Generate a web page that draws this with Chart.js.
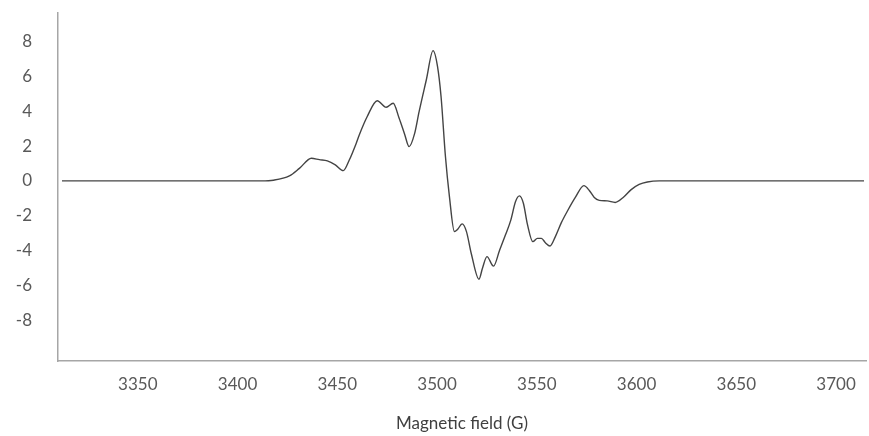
<!DOCTYPE html>
<html>
<head>
<meta charset="utf-8">
<script src="https://cdn.jsdelivr.net/npm/chart.js@4.4.1/dist/chart.umd.min.js"></script>
<style>
  body { margin: 0; background: #fff; }
  #wrap { width: 869px; height: 436px; }
</style>
</head>
<body>
<div id="wrap"><canvas id="epr"></canvas></div>
<script>
// field values (G)
const fieldG = [3312, 3350, 3400, 3412, 3418, 3426, 3431, 3437, 3441, 3445, 3449, 3453, 3456, 3459.5, 3461,
  3465, 3470, 3474.5, 3478, 3481, 3483.7, 3486, 3488.7, 3491, 3494.6, 3498, 3500.2, 3502, 3504.2, 3506.2,
  3508.7, 3510.2, 3512.6, 3514.7, 3517.2, 3521, 3522.8, 3525, 3528.3, 3531.3, 3534.3, 3537, 3539.3, 3541.3,
  3543.3, 3545.3, 3548, 3550.3, 3552.3, 3554.3, 3556.6, 3559.3, 3562.3, 3565.5, 3569.3, 3573.6, 3576.3,
  3578.8, 3581.3, 3585.3, 3589.3, 3593.3, 3597.3, 3601.3, 3605.4, 3611.4, 3650, 3700, 3714];
// signal intensity at those fields
const signal = [0, 0, 0, 0, 0.04, 0.29, 0.72, 1.3, 1.22, 1.15, 0.92, 0.59, 1.2, 2.17, 2.64,
  3.7, 4.61, 4.23, 4.46, 3.6, 2.7, 1.97, 2.7, 3.98, 5.8, 7.49, 6.6, 4.85, 1.4, -0.9,
  -2.91, -2.8, -2.47, -2.9, -4.2, -5.65, -5.0, -4.35, -4.9, -4.0, -3.1, -2.24, -1.2, -0.86,
  -1.3, -2.5, -3.49, -3.3, -3.3, -3.55, -3.74, -3.2, -2.4, -1.7, -0.95, -0.27, -0.55,
  -0.95, -1.12, -1.15, -1.24, -0.95, -0.5, -0.2, -0.06, 0, 0, 0, 0];

const xTicks = [3350, 3400, 3450, 3500, 3550, 3600, 3650, 3700];
const yTicks = [-8, -6, -4, -2, 0, 2, 4, 6, 8];

const tickFont = { family: 'Lato', size: 17 };
const axisGrey = '#a6a6a6';

const points = fieldG.map((g, i) => ({ x: g, y: signal[i] }));

new Chart(document.getElementById('epr'), {
  type: 'scatter',
  data: {
    datasets: [{
      data: points,
      showLine: true,
      borderColor: '#444444',
      borderWidth: 1.4,
      pointRadius: 0,
      cubicInterpolationMode: 'monotone'
    }]
  },
  options: {
    responsive: true,
    maintainAspectRatio: false,
    animation: false,
    layout: { padding: { top: 13, right: 3, left: 0, bottom: 0 } },
    plugins: { legend: { display: false }, tooltip: { enabled: false } },
    scales: {
      x: {
        type: 'linear',
        min: 3310,
        max: 3715,
        grid: { display: false, drawTicks: false },
        border: { display: true, color: axisGrey, width: 1.5 },
        afterBuildTicks: (s) => { s.ticks = xTicks.map(v => ({ value: v })); },
        afterFit: (s) => { s.height = 75; s.paddingLeft = 0; s.paddingRight = 0; },
        ticks: { color: '#595959', font: tickFont, padding: 13, maxRotation: 0, callback: (v) => String(v) },
        title: {
          display: true,
          text: 'Magnetic field (G)',
          color: '#404040',
          font: { family: 'Lato', size: 17 },
          padding: { top: 20, bottom: 2 }
        }
      },
      y: {
        min: -10.35,
        max: 9.65,
        grid: { display: false, drawTicks: false },
        border: { display: true, color: axisGrey, width: 1.5 },
        afterBuildTicks: (s) => { s.ticks = yTicks.map(v => ({ value: v })); },
        afterFit: (s) => { s.width = 58; s.paddingTop = 0; s.paddingBottom = 0; },
        ticks: { color: '#595959', font: tickFont, padding: 26, callback: (v) => String(v) }
      }
    }
  }
});
</script>
</body>
</html>
